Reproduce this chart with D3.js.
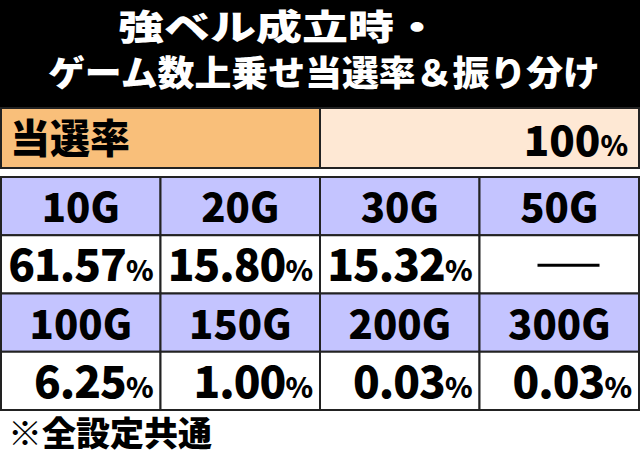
<!DOCTYPE html><html><head><meta charset="utf-8"><script src="https://cdn.jsdelivr.net/npm/d3@7"></script>
<style>body{margin:0;background:#fff}text{font-family:"Noto Sans CJK JP","Noto Sans",sans-serif;font-weight:900}</style></head><body><svg id="c" width="640" height="457"></svg><script>
const titleLines=["強ベル成立時・","ゲーム数上乗せ当選率＆振り分け"];
const rateLabel="当選率", rateValue="100";
const categories=["10G","20G","30G","50G","100G","150G","200G","300G"];
const values=["61.57","15.80","15.32",null,"6.25","1.00","0.03","0.03"];
const note="※全設定共通";
const svg=d3.select("#c");
svg.append("rect").attr("width",640).attr("height",108).attr("fill","#000");
titleLines.forEach((t,i)=>svg.append("text").attr("x",i?324:279).attr("y",40+i*46).attr("text-anchor","middle").attr("fill","#fff").attr("font-size",35).attr("textLength",i?552:322).attr("lengthAdjust","spacingAndGlyphs").text(t));
svg.append("rect").attr("x",1).attr("y",108).attr("width",319).attr("height",60).attr("fill","#F9BF7A").attr("stroke","#222").attr("stroke-width",2);
svg.append("rect").attr("x",320).attr("y",108).attr("width",319).attr("height",60).attr("fill","#FEE8D4").attr("stroke","#222").attr("stroke-width",2);
svg.append("text").attr("x",10).attr("y",153).attr("font-size",40).text(rateLabel);
const rt=svg.append("text").attr("x",628).attr("y",156).attr("text-anchor","end").attr("font-size",42);
rt.append("tspan").text(rateValue);rt.append("tspan").attr("font-size",28).text("%");
const x=d3.scaleBand().domain([0,1,2,3]).range([1,639]);
const y=d3.scaleBand().domain([0,1,2,3]).range([177,410]);
categories.forEach((c,i)=>{
 const col=i%4, r=Math.floor(i/4)*2;
 svg.append("rect").attr("x",x(col)).attr("y",y(r)).attr("width",x.bandwidth()).attr("height",y.bandwidth()).attr("fill","#C4C4FF").attr("stroke","#222").attr("stroke-width",2);
 svg.append("text").attr("x",x(col)+x.bandwidth()/2).attr("y",y(r)+45).attr("text-anchor","middle").attr("font-size",40).text(c);
 svg.append("rect").attr("x",x(col)).attr("y",y(r+1)).attr("width",x.bandwidth()).attr("height",y.bandwidth()).attr("fill","#fff").attr("stroke","#222").attr("stroke-width",2);
 const v=values[i];
 if(v===null){svg.append("line").attr("x1",x(col)+58).attr("x2",x(col)+120).attr("y1",y(r+1)+30).attr("y2",y(r+1)+30).attr("stroke","#000").attr("stroke-width",3);}
 else{const t=svg.append("text").attr("x",x(col)+x.bandwidth()-8).attr("y",y(r+1)+46).attr("text-anchor","end").attr("font-size",44).attr("letter-spacing",-1);
 t.append("tspan").text(v);t.append("tspan").attr("font-size",28).text("%");}
});
svg.append("text").attr("x",8).attr("y",446).attr("font-size",34).text(note);
</script></body></html>
